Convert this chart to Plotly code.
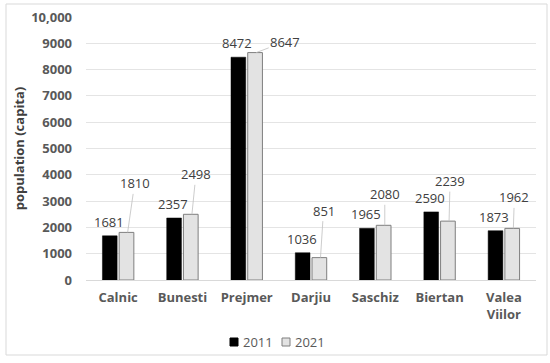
import plotly.graph_objects as go

categories = ["Calnic", "Bunesti", "Prejmer", "Darjiu", "Saschiz", "Biertan", "Valea<br>Viilor"]
pop_2011 = [1681, 2357, 8472, 1036, 1965, 2590, 1873]
pop_2021 = [1810, 2498, 8647, 851, 2080, 2239, 1962]
series_names = ["2011", "2021"]
y_tickvals = [0, 1000, 2000, 3000, 4000, 5000, 6000, 7000, 8000, 9000, 10000]
y_ticktext = ["0", "1000", "2000", "3000", "4000", "5000", "6000", "7000", "8000", "9000", "10,000"]

# label offsets (pixels) for 2021 data labels with leader lines
lbl21_dx = [7, 4, 29, 3, 0, 1, 1]
lbl21_dy = [-49, -40, -11, -47, -31, -40, -31]

FONT = "Open Sans"
COL_2011 = "#000000"
COL_2021 = "#e3e3e3"
EDGE_2021 = "#7f7f7f"

L, R, T, B = 86, 14, 17, 83
PW, PH = 550 - L - R, 363 - T - B


def px2paper_x(px):
    return (px - L) / PW


def px2paper_y(py):
    return (363 - B - py) / PH


fig = go.Figure()
fig.add_trace(go.Bar(x=categories, y=pop_2011, name=series_names[0], showlegend=False,
                     marker=dict(color=COL_2011, line=dict(color=COL_2011, width=0.5))))
fig.add_trace(go.Bar(x=categories, y=pop_2021, name=series_names[1], showlegend=False,
                     marker=dict(color=COL_2021, line=dict(color=EDGE_2021, width=1))))

ann = []
for c, v in zip(categories, pop_2011):
    ann.append(dict(x=c, y=v, xref="x", yref="y", text=str(v), showarrow=False,
                    xshift=-9.5, yshift=3, yanchor="bottom",
                    font=dict(family=FONT, size=13, color="#404040")))
for c, v, dx, dy in zip(categories, pop_2021, lbl21_dx, lbl21_dy):
    ann.append(dict(x=c, y=v, xref="x", yref="y", text=str(v), showarrow=True,
                    arrowhead=0, arrowwidth=0.8, arrowcolor="#bfbfbf", standoff=0,
                    ax=dx, ay=dy, xshift=9.5,
                    font=dict(family=FONT, size=13, color="#404040")))

# legend (drawn manually to match compact symbol/text spacing)
legend_items = [(series_names[0], COL_2011, COL_2011, 230), (series_names[1], COL_2021, EDGE_2021, 282)]
shapes = [dict(type="rect", xref="paper", yref="paper",
               x0=px2paper_x(6), x1=px2paper_x(547),
               y0=px2paper_y(355), y1=px2paper_y(4),
               line=dict(color="#d9d9d9", width=1), layer="below")]
for name, fc, ec, sx in legend_items:
    shapes.append(dict(type="rect", xref="paper", yref="paper",
                       x0=px2paper_x(sx), x1=px2paper_x(sx + 8),
                       y0=px2paper_y(346), y1=px2paper_y(338),
                       fillcolor=fc, line=dict(color=ec, width=1)))
    ann.append(dict(xref="paper", yref="paper", x=px2paper_x(sx + 11), y=px2paper_y(342),
                    xanchor="left", yanchor="middle", showarrow=False, text=name,
                    font=dict(family=FONT, size=13, color="#595959")))

fig.update_layout(
    width=550, height=363,
    margin=dict(l=L, r=R, t=T, b=B),
    paper_bgcolor="white", plot_bgcolor="white",
    barmode="group", bargap=0.48, bargroupgap=0.12,
    font=dict(family=FONT, color="#595959"),
    annotations=ann, shapes=shapes, showlegend=False,
)
fig.update_xaxes(automargin=False, showgrid=False, showline=True, linecolor="#d9d9d9", linewidth=1,
                 tickfont=dict(family=FONT, size=13, color="#595959", weight="bold"),
                 ticks="", ticklabelstandoff=5)
fig.update_yaxes(automargin=False, range=[0, 10000], tickvals=y_tickvals, ticktext=y_ticktext,
                 showgrid=True, gridcolor="#e4e4e4", gridwidth=1, zeroline=False,
                 tickfont=dict(family=FONT, size=13, color="#595959", weight="bold"),
                 ticklabelstandoff=13,
                 title=dict(text="population (capita)", standoff=3,
                            font=dict(family=FONT, size=13, color="#404040", weight="bold")))

fig.write_html("out.html", config={"displayModeBar": False},
               post_script="document.body.style.margin='0';")
